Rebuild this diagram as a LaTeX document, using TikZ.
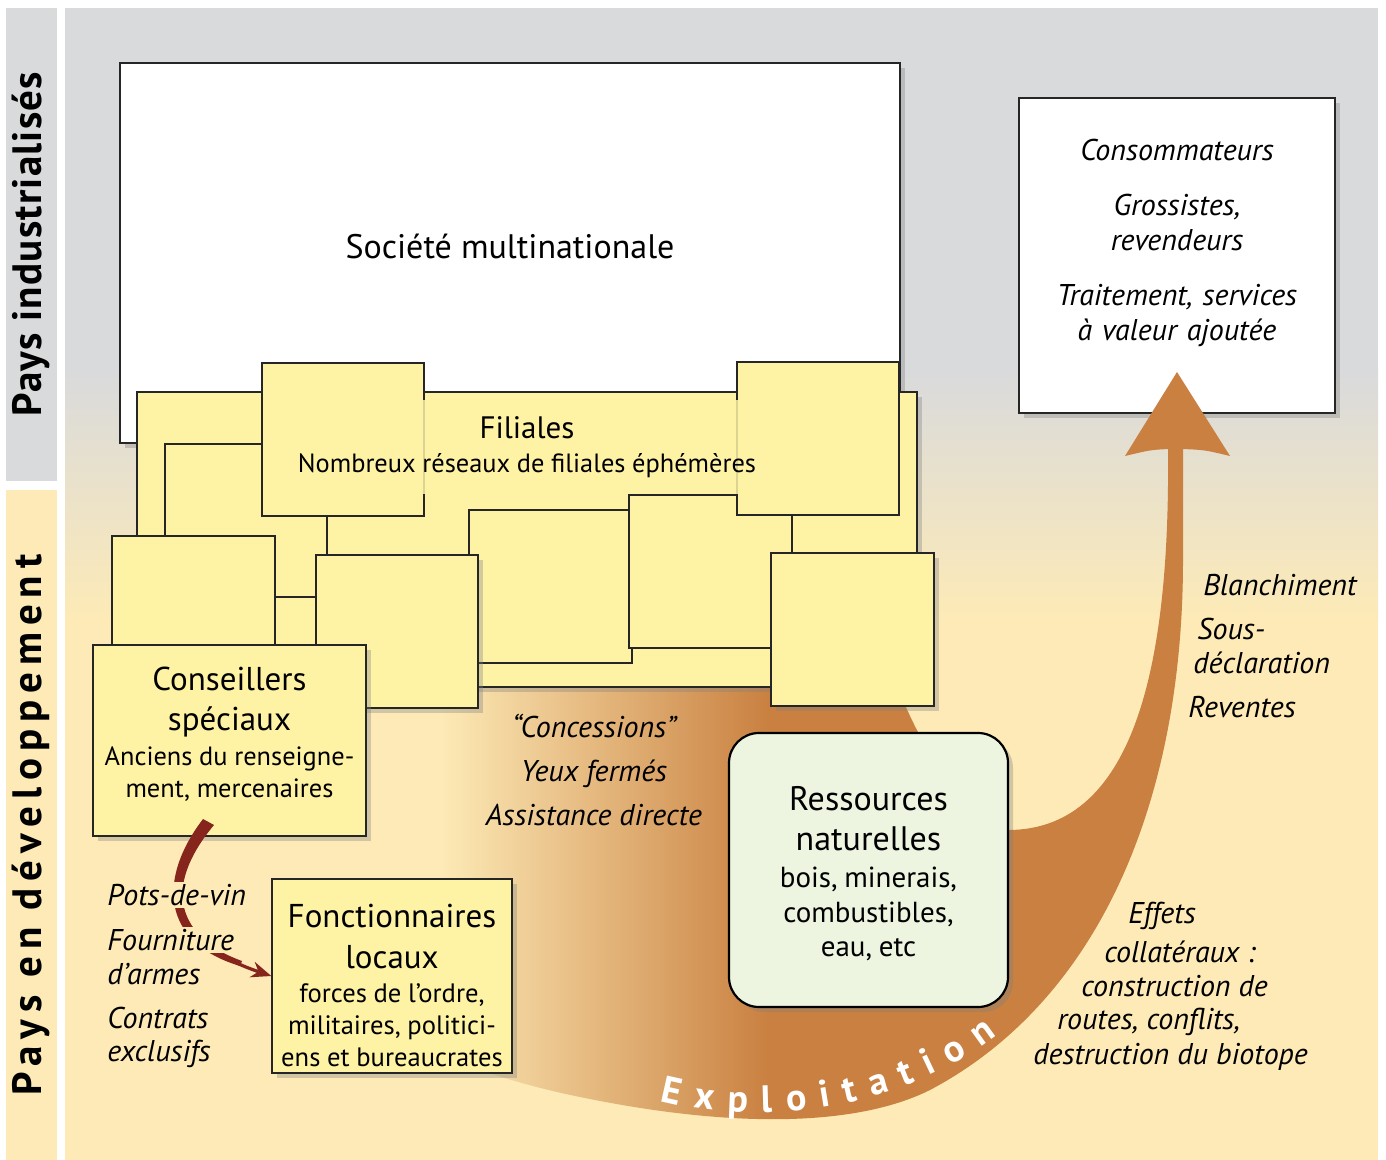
\documentclass[tikz,border=0pt]{standalone}
\usepackage{fontspec}
\setmainfont{PT Sans}
\newfontfamily\trackedsans[LetterSpace=17]{PT Sans}
\newfontfamily\lighttracked[LetterSpace=3]{PT Sans}
\usetikzlibrary{calc,shadows,arrows.meta,decorations.text}

\definecolor{panelgray}{RGB}{217,218,220}
\definecolor{paleyellow}{RGB}{253,234,182}
\definecolor{filyellow}{RGB}{254,242,165}
\definecolor{resgreen}{RGB}{237,244,223}
\definecolor{swooshorange}{RGB}{201,128,64}
\definecolor{bribered}{RGB}{133,37,28}

\newcommand{\exploitfont}{\fontsize{19}{19}\selectfont\bfseries}

\tikzset{
  shadowed/.style={drop shadow={opacity=0.35, shadow xshift=2.5pt, shadow yshift=-2.5pt}},
  filiale/.style={draw=black!85, fill=filyellow, line width=0.7pt},
  bigbox/.style={draw=black!85, line width=0.7pt, inner sep=0pt},
  boxtext/.style={inner sep=0pt, align=center},
  italabel/.style={font=\fontsize{15}{17.5}\selectfont\itshape, inner sep=1pt},
}

\begin{document}
\begin{tikzpicture}[x=0.5pt, y=-0.5pt]
    \useasboundingbox (0,0) rectangle (1386,1160);
    \fill[white] (0,0) rectangle (1386,1160);

    % side strips
    \fill[panelgray] (6,8) rectangle (57,481);
    \fill[paleyellow] (6,490) rectangle (57,1160);
    \node[rotate=90, font={\lighttracked\bfseries\fontsize{20.5}{22}\selectfont}] (indus) at (31,244) {Pays industrialisés};
    \node[rotate=90, font={\trackedsans\bfseries\fontsize{20.5}{22}\selectfont}] (devel) at (31,825) {Pays en développement};

    % main panel
    \fill[paleyellow] (65,8) rectangle (1378,1160);
    \fill[panelgray] (65,8) rectangle (1378,370);
    \shade[top color=panelgray, bottom color=paleyellow] (65,370) rectangle (1378,620);

    % consommateurs
    \node[bigbox, shadowed, fill=white, minimum width=158pt, minimum height=157.5pt] (conso) at (1177,255.5) {};
    \node[italabel, text width=150pt, align=center] (consotext) at (1177,243)
        {Consommateurs\\[10pt]Grossistes,\\revendeurs\\[10pt]Traitement, services\\à valeur ajoutée};

    % exploitation swoosh
    \begin{scope}
        \clip (1183,449) -- (1183,560) .. controls (1183,800) and (1100,1000) .. (930,1090)
            .. controls (860,1125) and (740,1130) .. (580,1097)
            .. controls (520,1085) and (460,1065) .. (400,1040)
            -- (400,600) -- (870,600)
            .. controls (895,700) and (940,800) .. (1008,830)
            .. controls (1140,830) and (1170,650) .. (1168,449) -- cycle;
        \shade[left color=paleyellow, right color=swooshorange] (440,580) rectangle (770,1140);
        \fill[swooshorange] (770,440) rectangle (1240,1140);
    \end{scope}
    \fill[swooshorange] (1177,372) -- (1230,456) .. controls (1205,450) .. (1183,449)
        -- (1168,449) .. controls (1150,450) .. (1125,456) -- cycle;
    \path[decorate, decoration={text along path, text align=fit to path, text color=white,
        text={|\exploitfont|Exploitation}}] (660,1101) .. controls (750,1124) and (890,1117) .. (997,1035);

    % multinationale
    \node[bigbox, shadowed, fill=white, minimum width=390pt, minimum height=190pt, text depth=7pt,
        font=\fontsize{17}{20}\selectfont] (multi) at (510,253) {Société multinationale};

    % filiales
    \draw[filiale, shadowed] (137,392) rectangle (917,687);
    \draw[filiale] (165,444) rectangle (327,597);
    \draw[filiale] (262,363) rectangle (424,516);
    \draw[filiale] (469,510) rectangle (632,663);
    \draw[filiale] (112,536) rectangle (275,700);
    \draw[filiale, shadowed] (316,555) rectangle (478,708);
    \draw[filiale] (629,495) rectangle (792,648);
    \draw[filiale] (737,362) rectangle (899,515);
    \draw[filiale, shadowed] (771,553) rectangle (934,706);
    \node[fill=filyellow, fill opacity=0.85, text opacity=1, inner sep=0pt, text width=236pt,
        minimum height=47pt, align=center] (filtext) at (527,447)
        {\fontsize{15.5}{19}\selectfont Filiales\par
         \fontsize{13.2}{17}\selectfont Nombreux réseaux de filiales éphémères\par};

    % conseillers
    \node[filiale, shadowed, minimum width=136.5pt, minimum height=95.5pt] (cons) at (229.5,740.5) {};
    \node[boxtext, text width=134pt] (constext) at (229.5,734.5)
        {\fontsize{16.5}{20}\selectfont Conseillers\\spéciaux\par\vspace{1.5pt}
         \fontsize{13.2}{16}\selectfont Anciens du renseigne-\\ment, mercenaires\par};

    % fonctionnaires
    \node[filiale, shadowed, minimum width=120pt, minimum height=97pt] (fonc) at (392,976) {};
    \node[boxtext, text width=118pt] (fonctext) at (392,985)
        {\fontsize{16.5}{20.5}\selectfont Fonctionnaires\\locaux\par\vspace{1pt}
         \fontsize{13.3}{16}\selectfont forces de l’ordre,\\militaires, politici-\\ens et bureaucrates\par};

    % ressources
    \node[draw=black, line width=1.1pt, fill=resgreen, rounded corners=15pt, shadowed,
        minimum width=139.5pt, minimum height=137pt] (res) at (868.5,870) {};
    \node[boxtext, text width=135pt] (restext) at (868.5,874)
        {\fontsize{17}{20}\selectfont Ressources\\naturelles\par\vspace{1pt}
         \fontsize{14.5}{17.3}\selectfont bois, minerais,\\combustibles,\\eau, etc\par};

    % bribes
    \coordinate (bribestart) at ($(cons.south)+(-21,-14)$);
    \draw[bribered, line width=1.6pt, -{Stealth[length=10pt, width=8pt]}] (bribestart)
        .. controls +(-43,58) and +(-107,-36) .. (fonc.west);
    \fill[bribered] (203,819) .. controls (158,878) and (160,942) .. (240,966)
        -- (242,961) .. controls (168,934) and (168,880) .. (214,825) -- cycle;

    % labels left
    \node[italabel, fill=paleyellow, anchor=west] (potsdevin) at (105,895) {Pots-de-vin};
    \node[italabel, fill=paleyellow, anchor=west] (fourniture) at (105,940) {Fourniture};
    \node[italabel, anchor=west] (armes) at (105,974) {d’armes};
    \node[italabel, anchor=west, align=left] (contrats) at (105,1037) {Contrats\\[-1pt]exclusifs};

    % labels middle
    \node[italabel, align=center] (concess) at (594,770) {“Concessions”\\[4.5pt]Yeux fermés\\[4.5pt]Assistance directe};

    % labels right
    \node[italabel, anchor=west] (blanch) at (1201,585) {Blanchiment};
    \node[italabel, anchor=west] (sous) at (1195,629) {Sous-};
    \node[italabel, anchor=west] (declar) at (1191,663) {déclaration};
    \node[italabel, anchor=west] (revent) at (1186,707) {Reventes};
    \node[italabel, anchor=west] (effets) at (1126,916) {Effets};
    \node[italabel, anchor=west] (collat) at (1102,952) {collatéraux :};
    \node[italabel, anchor=west] (constr) at (1079,986) {construction de};
    \node[italabel, anchor=west] (routes) at (1055,1022) {routes, conflits,};
    \node[italabel, anchor=west] (destr) at (1031,1057) {destruction du biotope};
\end{tikzpicture}
\end{document}
